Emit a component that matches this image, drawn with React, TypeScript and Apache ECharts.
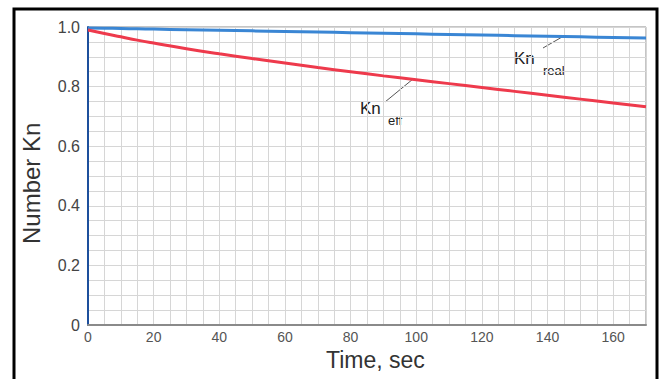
import React, { useEffect, useRef } from "react";
import * as echarts from "echarts";

const timeSec = [0, 5, 10, 15, 20, 30, 40, 50, 60, 70, 80, 90, 100, 110, 120, 130, 140, 150, 160, 170];
const knEff = [0.99, 0.978, 0.967, 0.956, 0.946, 0.927, 0.91, 0.894, 0.879, 0.864, 0.85, 0.836, 0.823, 0.81, 0.797, 0.784, 0.771, 0.758, 0.745, 0.732];
const knReal = [0.997, 0.996, 0.995, 0.994, 0.993, 0.991, 0.989, 0.987, 0.985, 0.983, 0.981, 0.979, 0.977, 0.975, 0.973, 0.971, 0.969, 0.967, 0.965, 0.963];
const xTitle = "Time, sec";
const yTitle = "Number Kn";

const FONT = "'Liberation Sans', Arial, sans-serif";

export default function App() {
  const ref = useRef<HTMLDivElement>(null);
  useEffect(() => {
    if (!ref.current) return;
    const chart = echarts.init(ref.current, null, { renderer: "svg" });
    const gridLine = { show: true, lineStyle: { color: "#d6d6d6", width: 1 } };
    chart.setOption({
      animation: false,
      backgroundColor: "#ffffff",
      grid: { left: 88, right: 16, top: 27, bottom: 54, show: true, borderColor: "#8a8a8a", borderWidth: 1 },
      xAxis: {
        type: "value",
        min: 0,
        max: 170,
        interval: 20,
        axisLine: { show: true, lineStyle: { color: "#8a8a8a", width: 2 } },
        axisTick: { show: false },
        minorTick: { show: false, splitNumber: 4 },
        splitLine: gridLine,
        minorSplitLine: gridLine,
        axisLabel: { showMaxLabel: false, color: "#555", fontSize: 14, fontFamily: FONT, margin: 5 },
      },
      yAxis: {
        type: "value",
        min: 0,
        max: 1,
        interval: 0.2,
        axisLine: { show: true, lineStyle: { color: "#1d4f9c", width: 2 } },
        axisTick: { show: false },
        minorTick: { show: false, splitNumber: 4 },
        splitLine: gridLine,
        minorSplitLine: gridLine,
        axisLabel: {
          color: "#444",
          fontSize: 16,
          fontFamily: FONT,
          margin: 8,
          formatter: (v: number) => (v === 0 ? "0" : v.toFixed(1)),
        },
      },
      series: [
        {
          type: "line",
          name: "Kn real",
          data: timeSec.map((t, i) => [t, knReal[i]]),
          showSymbol: false,
          smooth: true,
          lineStyle: { color: "#3a86d4", width: 3 },
          z: 3,
        },
        {
          type: "line",
          name: "Kn eff",
          data: timeSec.map((t, i) => [t, knEff[i]]),
          showSymbol: false,
          smooth: true,
          lineStyle: { color: "#ee3a4c", width: 3 },
          z: 4,
        },
      ],
      graphic: [
        { type: "rect", shape: { x: 14, y: 9, width: 643, height: 380 }, style: { fill: "none", stroke: "#000", lineWidth: 3 }, silent: true },
        { type: "text", x: 326, y: 348, style: { text: xTitle, fontSize: 23, fontFamily: FONT, fill: "#333" } },
        { type: "text", x: 19, y: 244, rotation: Math.PI / 2, style: { text: yTitle, fontSize: 24, fontFamily: FONT, fill: "#333" } },
        { type: "line", shape: { x1: 543, y1: 48, x2: 562, y2: 37 }, style: { stroke: "#555", lineWidth: 1 } },
        { type: "text", x: 514, y: 50, style: { text: "Kn", fontSize: 17, fontFamily: FONT, fill: "#222" } },
        { type: "text", x: 543, y: 64, style: { text: "real", fontSize: 13, fontFamily: FONT, fill: "#222" } },
        { type: "line", shape: { x1: 385, y1: 102, x2: 413, y2: 79 }, style: { stroke: "#555", lineWidth: 1 } },
        { type: "text", x: 360, y: 100, style: { text: "Kn", fontSize: 17, fontFamily: FONT, fill: "#222" } },
        { type: "text", x: 388, y: 114, style: { text: "eff", fontSize: 13, fontFamily: FONT, fill: "#222" } },
      ],
    });
    return () => chart.dispose();
  }, []);
  return <div ref={ref} style={{ position: "fixed", left: 0, top: 0, width: 662, height: 379 }} />;
}
